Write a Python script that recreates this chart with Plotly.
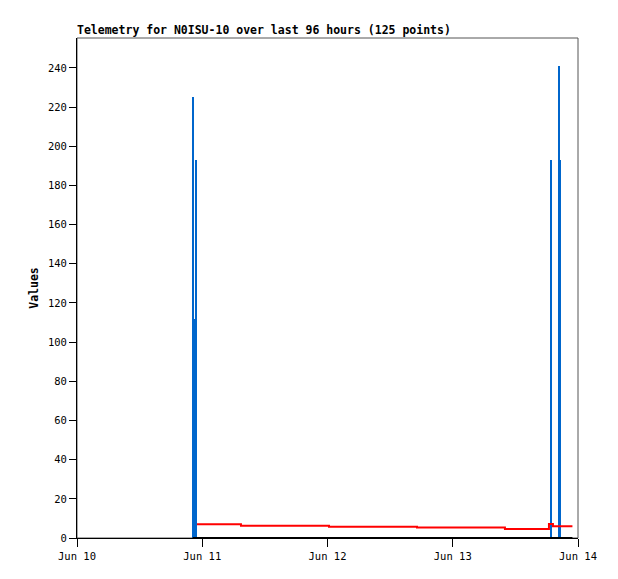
import plotly.graph_objects as go

# Telemetry for N0ISU-10, last 96 hours
spike_times = ["2023-06-10 22:14", "2023-06-10 22:31", "2023-06-10 22:48",
               "2023-06-13 18:50", "2023-06-13 20:22", "2023-06-13 20:33"]
spike_values = [225, 112, 193, 193, 241, 193]

red_times = ["2023-06-10 23:00", "2023-06-11 07:25", "2023-06-12 00:17",
             "2023-06-12 17:09", "2023-06-13 10:00", "2023-06-13 18:26",
             "2023-06-13 19:12", "2023-06-13 22:56"]
red_values = [7.0, 6.3, 5.8, 5.3, 4.6, 7.1, 6.0, 6.0]

zero_times = ["2023-06-10 22:10", "2023-06-13 22:56"]
zero_values = [0, 0]

y_ticks = list(range(0, 241, 20))

FONT = "DejaVu Sans Mono"
BAR_MS = 23 * 60 * 1000  # roughly 2px wide
W, H = 610, 571  # page body adds 8px around the figure

fig = go.Figure()
fig.add_trace(go.Bar(x=spike_times, y=spike_values, width=BAR_MS,
                     marker=dict(color="#0066cc", line=dict(width=0)),
                     showlegend=False))
fig.add_trace(go.Scatter(x=zero_times, y=zero_values, mode="lines",
                         line=dict(color="black", width=2, shape="hv"),
                         showlegend=False))
fig.add_trace(go.Scatter(x=red_times, y=red_values, mode="lines",
                         line=dict(color="#ff0000", width=2, shape="hv"),
                         showlegend=False))

fig.update_layout(
    width=W, height=H,
    margin=dict(l=69, r=40, t=30, b=41),
    paper_bgcolor="white", plot_bgcolor="white",
    barmode="overlay", bargap=0,
    font=dict(family=FONT, size=10, color="black"),
    title=dict(text="<b>Telemetry for N0ISU-10 over last 96 hours (125 points)</b>",
               x=69 / W, xanchor="left", xref="container",
               y=1 - 22 / H, yanchor="middle", yref="container",
               font=dict(family=FONT, size=11.5, color="black")),
    xaxis=dict(range=["2023-06-10", "2023-06-14"], type="date",
               tickvals=["2023-06-10", "2023-06-11", "2023-06-12", "2023-06-13", "2023-06-14"],
               tickformat="%b %d", ticks="outside", ticklen=8, tickcolor="black",
               showline=True, linecolor="black", linewidth=1,
               showgrid=False, zeroline=False,
               tickfont=dict(family=FONT, size=10.5)),
    yaxis=dict(range=[0, 255.3], tickvals=y_ticks, ticks="outside", ticklen=7,
               tickcolor="black", showline=True, linecolor="black", linewidth=1,
               showgrid=False, zeroline=False,
               tickfont=dict(family=FONT, size=10.5),
               title=dict(text="<b>Values</b>", standoff=6,
                          font=dict(family=FONT, size=11.5))),
)
fig.add_shape(type="rect", xref="paper", yref="paper", x0=0, x1=1, y0=0, y1=1,
              line=dict(color="#555555", width=1), layer="below")

fig.write_html("out.html")
